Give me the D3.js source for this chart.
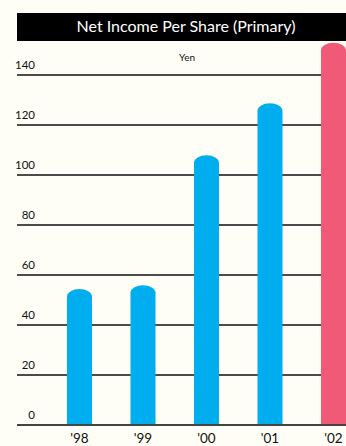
<!DOCTYPE html>
<html>
<head>
<meta charset="utf-8">
<script src="https://cdn.jsdelivr.net/npm/d3@7"></script>
<style>
  html, body { margin: 0; padding: 0; background: #fefef6; }
  svg { display: block; }
  text { font-family: Lato, "Noto Sans", sans-serif; }
</style>
</head>
<body>
<svg id="chart" width="346" height="446"></svg>
<script>
// Net income per share, yen
const years = ["'98", "'99", "'00", "'01", "'02"];
const values = [54.4, 55.9, 107.9, 128.7, 152.9];
const highlight = [false, false, false, false, true];
const yTicks = [0, 20, 40, 60, 80, 100, 120, 140];
const titleText = "Net Income Per Share (Primary)";
const unitText = "Yen";

const W = 346, H = 446;
const left = 17, right = 346;
const svg = d3.select("#chart");

svg.append("rect").attr("width", W).attr("height", H).attr("fill", "#fefef6");

const y = d3.scaleLinear().domain([0, 140]).range([425, 75]);
const x = d3.scaleBand().domain(years)
  .range([47.75, 365.25])
  .paddingInner(0.606)
  .paddingOuter(0.303);

// title bar
svg.append("rect")
  .attr("x", left).attr("y", 13)
  .attr("width", right - left).attr("height", 28)
  .attr("fill", "#000");
svg.append("text")
  .attr("x", 186).attr("y", 32)
  .attr("text-anchor", "middle")
  .attr("fill", "#fff")
  .attr("font-size", 16)
  .text(titleText);

// unit label
svg.append("text")
  .attr("x", 187).attr("y", 61)
  .attr("text-anchor", "middle")
  .attr("fill", "#111")
  .attr("font-size", 10)
  .text(unitText);

// gridlines
const grid = svg.append("g");
grid.selectAll("line").data(yTicks.filter(d => d > 0)).join("line")
  .attr("x1", left).attr("x2", right)
  .attr("y1", d => y(d)).attr("y2", d => y(d))
  .attr("stroke", "#111").attr("stroke-width", 1.5);

// y tick labels
svg.append("g").selectAll("text").data(yTicks).join("text")
  .attr("x", 35).attr("y", d => y(d) - 6)
  .attr("text-anchor", "end")
  .attr("fill", "#111")
  .attr("font-size", 11.5)
  .text(d => d);

// bars with rounded tops
const ry = 7.5;
function barPath(d, i) {
  const x0 = x(years[i]), w = x.bandwidth();
  const top = y(d), base = y(0);
  return `M${x0},${base}L${x0},${top + ry}` +
    `A${w / 2},${ry} 0 0 1 ${x0 + w},${top + ry}` +
    `L${x0 + w},${base}Z`;
}
svg.append("g").selectAll("path").data(values).join("path")
  .attr("d", barPath)
  .attr("fill", (d, i) => highlight[i] ? "#f05a77" : "#00aeef");

// baseline
svg.append("line")
  .attr("x1", left).attr("x2", right)
  .attr("y1", y(0)).attr("y2", y(0))
  .attr("stroke", "#444").attr("stroke-width", 2);

// x labels
svg.append("g").selectAll("text").data(years).join("text")
  .attr("x", d => x(d) + x.bandwidth() / 2)
  .attr("y", 443)
  .attr("text-anchor", "middle")
  .attr("fill", "#111")
  .attr("font-size", 13.5)
  .text(d => d);
</script>
</body>
</html>
